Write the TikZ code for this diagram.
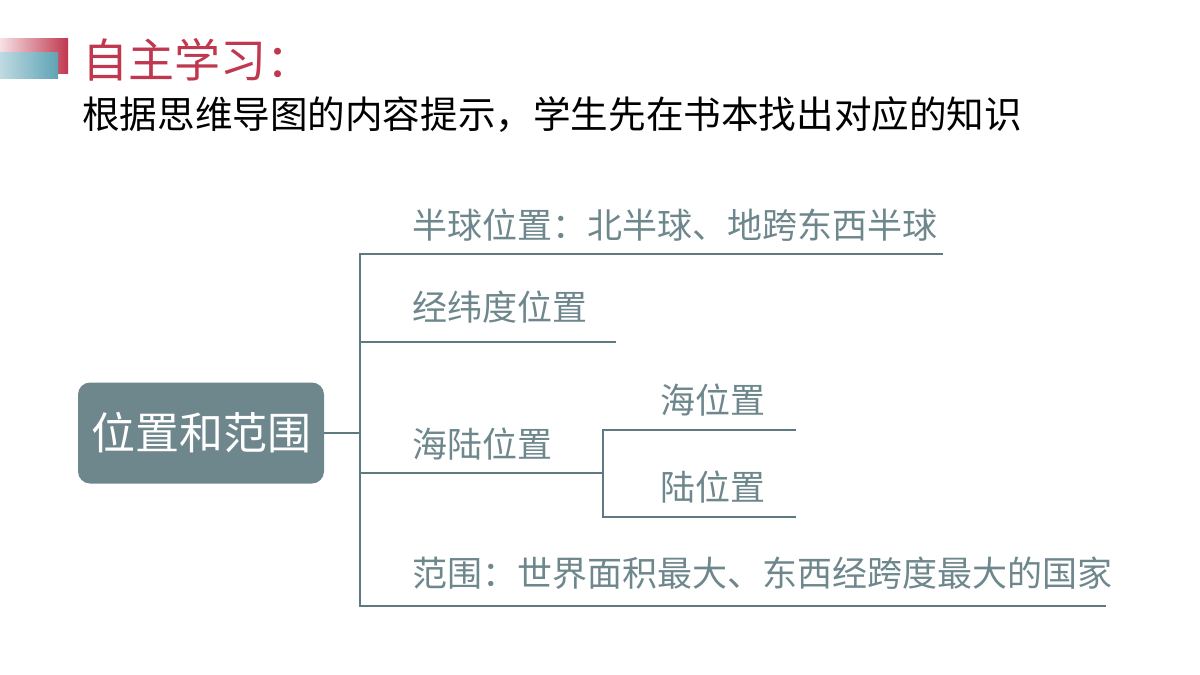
\documentclass[tikz,border=0pt]{standalone}
\usepackage{fontspec}
\setmainfont{Noto Sans CJK SC}
\begin{document}
\begin{tikzpicture}[x=1pt,y=-1pt,
  ln/.style={draw=lc,line width=2.6pt},
  lab/.style={anchor=west,inner sep=0,text=tc,font=\fontsize{35}{37}\selectfont}]
\definecolor{lc}{HTML}{5E7A80}
\definecolor{tc}{HTML}{6E878C}
\definecolor{rc}{HTML}{C0384F}
\definecolor{bc}{HTML}{5FA3B5}
\useasboundingbox (0,0) rectangle (1200,675);
\fill[left color=rc!15,right color=rc] (0,38) rectangle (68,73);
\fill[left color=bc!40,right color=bc] (0,52) rectangle (58,78);
\node[anchor=west,inner sep=0,text=rc,font=\fontsize{46}{48}\selectfont] (t) at (82,60) {自主学习：};
\node[anchor=west,inner sep=0,font=\fontsize{37.6}{40}\selectfont] (s) at (82,115) {根据思维导图的内容提示，学生先在书本找出对应的知识};
\node[fill=tc,rounded corners=12pt,minimum width=246pt,minimum height=101pt,text=white,font=\fontsize{44}{46}\selectfont] (r) at (201,433) {位置和范围};
\coordinate (j) at (360,433);
\coordinate (a0) at (360,254); \coordinate (a1) at (943,254);
\coordinate (b0) at (360,342); \coordinate (b1) at (616,342);
\coordinate (c0) at (360,473); \coordinate (c1) at (603,473);
\coordinate (d0) at (360,606); \coordinate (d1) at (1106,606);
\coordinate (e0) at (603,430); \coordinate (e1) at (796,430);
\coordinate (f0) at (603,517); \coordinate (f1) at (796,517);
\draw[ln] (r.east) -- (j);
\draw[ln] (a1) -- (a0) -- (d0) -- (d1);
\draw[ln] (b0) -- (b1);
\draw[ln] (c0) -- (c1);
\draw[ln] (e1) -- (e0) -- (f0) -- (f1);
\node[lab] (la) at (412,225) {半球位置：北半球、地跨东西半球};
\node[lab] (lb) at (412,307) {经纬度位置};
\node[lab] (lc2) at (412,444) {海陆位置};
\node[lab] (le) at (660,400) {海位置};
\node[lab] (lf) at (660,487) {陆位置};
\node[lab] (ld) at (412,573) {范围：世界面积最大、东西经跨度最大的国家};
\end{tikzpicture}
\end{document}
